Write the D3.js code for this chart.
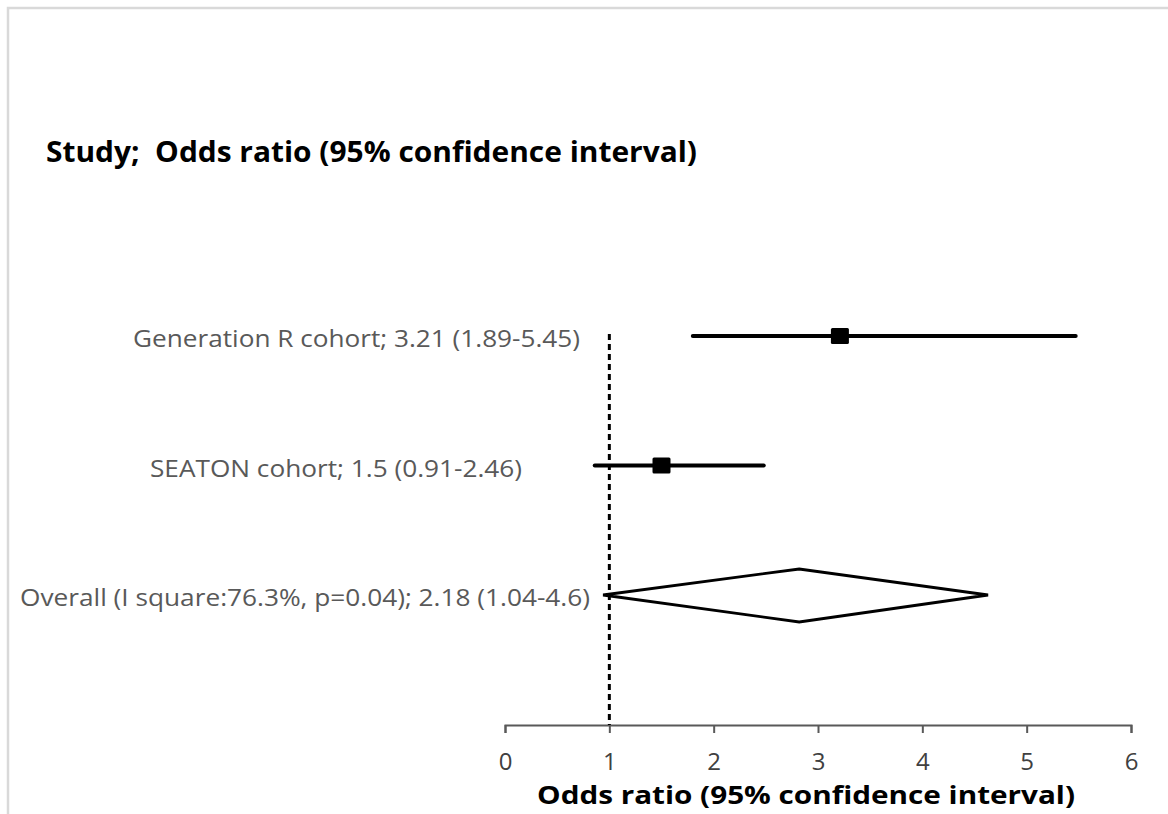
<!DOCTYPE html>
<html>
<head>
<meta charset="utf-8">
<script src="https://cdn.jsdelivr.net/npm/d3@7"></script>
<style>
  body { margin: 0; background: #fff; }
  text { font-family: "Open Sans", "Noto Sans", sans-serif; }
</style>
</head>
<body>
<svg width="1168" height="814"></svg>
<script>
// study rows, top to bottom
var studies = ["Generation R cohort; 3.21 (1.89-5.45)",
               "SEATON cohort; 1.5 (0.91-2.46)",
               "Overall (I square:76.3%, p=0.04); 2.18 (1.04-4.6)"];
// positions as drawn in the picture
var estimates = [3.21, 1.50, 2.82];
var lower = [1.80, 0.86, 0.94];
var upper = [5.47, 2.48, 4.63];
var isSummary = [false, false, true];
var tickValues = [0, 1, 2, 3, 4, 5, 6];

var svg = d3.select("svg");
var width = +svg.attr("width"),
	height = +svg.attr("height");

var x = d3.scaleLinear().domain([0, 6]).range([505, 1131]);
var y = d3.scalePoint().domain(studies).range([336, 595]);
var axisY = 725;

// label layout (right edge and width as in the picture)
var labelRight = [580, 522, 590];
var labelWidth = [447, 372, 570];

// frame lines of the pasted picture
svg.append("path")
	.attr("d", "M8," + height + "V8H" + width)
	.attr("fill", "none")
	.attr("stroke", "#d9d9d9")
	.attr("stroke-width", 2.5);

// title
svg.append("text")
	.attr("x", 46)
	.attr("y", 162)
	.attr("font-size", 28)
	.attr("font-weight", "bold")
	.attr("fill", "#000")
	.attr("textLength", 651)
	.attr("lengthAdjust", "spacingAndGlyphs")
	.attr("xml:space", "preserve")
	.text("Study;  Odds ratio (95% confidence interval)");

// x axis
var axis = svg.append("g")
	.attr("transform", "translate(0," + axisY + ")")
	.call(d3.axisBottom(x).tickValues(tickValues).tickSize(8).tickPadding(10).tickFormat(d3.format("d")));
axis.select(".domain").attr("stroke", "#595959").attr("stroke-width", 2);
axis.selectAll(".tick line").attr("stroke", "#595959").attr("stroke-width", 2);
axis.selectAll(".tick text")
	.attr("y", 45)
	.attr("dy", null)
	.attr("font-size", 24)
	.attr("fill", "#404040")
	.style("font-family", "'Open Sans', sans-serif");

svg.append("text")
	.attr("x", 537)
	.attr("y", 804)
	.attr("font-size", 25)
	.attr("font-weight", "bold")
	.attr("fill", "#000")
	.attr("textLength", 538)
	.attr("lengthAdjust", "spacingAndGlyphs")
	.text("Odds ratio (95% confidence interval)");

// line of no effect
svg.append("line")
	.attr("x1", x(1)).attr("x2", x(1))
	.attr("y1", 334).attr("y2", axisY)
	.attr("stroke", "#000")
	.attr("stroke-width", 3)
	.attr("stroke-dasharray", "6,4");

// study labels
svg.selectAll("text.label")
	.data(studies)
	.enter().append("text")
	.attr("class", "label")
	.attr("x", function(d, i) { return labelRight[i] - labelWidth[i]; })
	.attr("y", function(d) { return y(d) + 11; })
	.attr("font-size", 23)
	.attr("fill", "#595959")
	.attr("textLength", function(d, i) { return labelWidth[i]; })
	.attr("lengthAdjust", "spacingAndGlyphs")
	.text(function(d) { return d; });

// confidence intervals and point estimates
for (var i = 0; i < studies.length; i++)
{
	var cy = y(studies[i]);
	if (isSummary[i])
	{
		svg.append("path")
			.attr("d", "M" + x(lower[i]) + "," + cy +
				"L" + x(estimates[i]) + "," + (cy - 26) +
				"L" + x(upper[i]) + "," + cy +
				"L" + x(estimates[i]) + "," + (cy + 27) + "Z")
			.attr("fill", "#fff")
			.attr("stroke", "#000")
			.attr("stroke-width", 2.8)
			.attr("stroke-linejoin", "miter");
	}
	else
	{
		svg.append("line")
			.attr("x1", x(lower[i])).attr("x2", x(upper[i]))
			.attr("y1", cy).attr("y2", cy)
			.attr("stroke", "#000")
			.attr("stroke-width", 4)
			.attr("stroke-linecap", "round");
		svg.append("rect")
			.attr("x", x(estimates[i]) - 9)
			.attr("y", cy - 8)
			.attr("width", 18)
			.attr("height", 16)
			.attr("rx", 1.5)
			.attr("fill", "#000");
	}
}
</script>
</body>
</html>
